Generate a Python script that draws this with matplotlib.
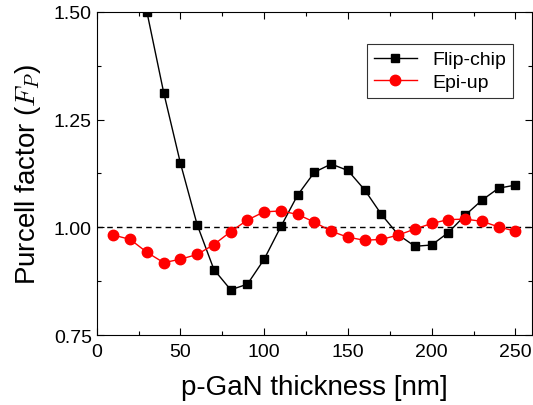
import matplotlib
matplotlib.use("Agg")
import matplotlib.pyplot as plt
from matplotlib.ticker import MultipleLocator

plt.rcParams['font.family'] = ['Liberation Sans', 'DejaVu Sans']
plt.rcParams['mathtext.fontset'] = 'cm'

# p-GaN thickness [nm]
flip_x = [30, 40, 50, 60, 70, 80, 90, 100, 110, 120, 130, 140, 150, 160,
          170, 180, 190, 200, 210, 220, 230, 240, 250]
flip_y = [1.500, 1.313, 1.149, 1.006, 0.902, 0.855, 0.868, 0.926, 1.002,
          1.075, 1.128, 1.147, 1.132, 1.087, 1.030, 0.983, 0.956, 0.959,
          0.988, 1.028, 1.063, 1.091, 1.098]

epi_x = [10, 20, 30, 40, 50, 60, 70, 80, 90, 100, 110, 120, 130, 140, 150,
         160, 170, 180, 190, 200, 210, 220, 230, 240, 250]
epi_y = [0.982, 0.972, 0.942, 0.918, 0.926, 0.937, 0.960, 0.990, 1.017,
         1.036, 1.038, 1.030, 1.012, 0.991, 0.977, 0.970, 0.972, 0.982,
         0.996, 1.009, 1.018, 1.019, 1.014, 1.001, 0.991]

fig = plt.figure(figsize=(5.33, 4.06), dpi=100)
ax = fig.add_axes([0.1814, 0.1724, 0.817, 0.7956])

ax.axhline(1.0, color='black', linestyle='--', linewidth=1.0, dashes=(4, 3))
ax.plot(flip_x, flip_y, color='black', marker='s', markersize=6,
        linewidth=1.0, label='Flip-chip')
ax.plot(epi_x, epi_y, color='red', marker='o', markersize=7.5,
        linewidth=1.0, label='Epi-up')

ax.set_xlim(0, 260)
ax.set_ylim(0.75, 1.50)
ax.xaxis.set_major_locator(MultipleLocator(50))
ax.xaxis.set_minor_locator(MultipleLocator(25))
ax.yaxis.set_major_locator(MultipleLocator(0.25))
ax.yaxis.set_minor_locator(MultipleLocator(0.125))
ax.yaxis.set_major_formatter(plt.FormatStrFormatter('%.2f'))
ax.tick_params(which='both', direction='in', top=True, right=True,
               labelsize=14, width=0.8)
ax.tick_params(which='major', length=5)
ax.tick_params(axis='x', which='major', pad=6)
ax.tick_params(which='minor', length=3)

ax.set_xlabel('p-GaN thickness [nm]', fontsize=20, labelpad=10)
ax.set_ylabel('Purcell factor ($F_P$)', fontsize=20, labelpad=8)

leg = ax.legend(loc='upper right', bbox_to_anchor=(0.956, 0.901), fontsize=14,
                frameon=True, fancybox=False, edgecolor='black',
                borderaxespad=0, handlelength=2.2, borderpad=0.35,
                labelspacing=0.25)
leg.get_frame().set_linewidth(0.8)

fig.savefig('out.png', dpi=100)
